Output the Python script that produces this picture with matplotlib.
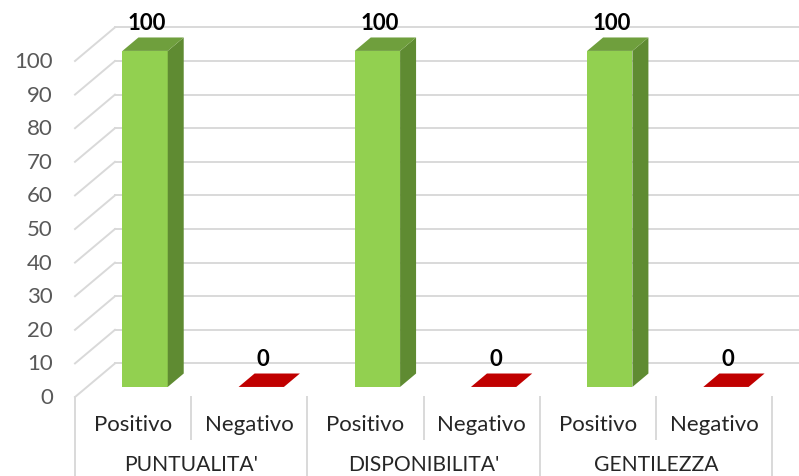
import matplotlib.pyplot as plt
from matplotlib.patches import Polygon
import numpy as np

groups = ["PUNTUALITA'", "DISPONIBILITA'", "GENTILEZZA"]
answers = ['Positivo', 'Negativo']
positivo = [100, 100, 100]
negativo = [0, 0, 0]
y_ticks = list(range(0, 101, 10))

# oblique "3D" look: depth offset expressed in data units
DX = 0.344   # slots
DZ = 10.0    # value units
T0, T1 = 0.3, 0.7   # front / back depth of the bars
BAR_W = 0.39

grid_c = '#D9D9D9'
fills = {
    'Positivo': ('#92D050', '#5F8B32', '#6F9F3D'),
    'Negativo': ('#C00000', '#8E0000', '#C00000'),
}
FS = 16

plt.rcParams['font.family'] = ['Lato', 'DejaVu Sans']

fig = plt.figure(figsize=(7.99, 4.77), dpi=100)
ax = fig.add_axes([0, 0, 1, 1])
ax.set_xlim(-0.6456, 6.232)
ax.set_ylim(-23.5, 118.45)
ax.axis('off')


def sh(x, y, t):
    return (x + t * DX, y + t * DZ)


# walls: back gridlines and left side diagonals
for v in y_ticks:
    bx, by = sh(0, v, 1)
    ax.plot([bx, 6.3], [by, by], color=grid_c, lw=1.4, zorder=1)
    ax.plot([0, bx], [v, by], color=grid_c, lw=1.4, zorder=1)
    ax.annotate(str(v), (0, v), xytext=(-16, 0), textcoords='offset points',
                ha='right', va='center', fontsize=FS, color='#595959')

# bars
n = len(answers)
for g in range(len(groups)):
    for j, (name, vals) in enumerate(zip(answers, [positivo, negativo])):
        val = vals[g]
        c = g * n + j + 0.5
        x0, x1 = c - BAR_W / 2, c + BAR_W / 2
        front, side, top = fills[name]
        if val > 0:
            ax.add_patch(Polygon([sh(x0, 0, T0), sh(x1, 0, T0), sh(x1, val, T0), sh(x0, val, T0)],
                                 closed=True, fc=front, ec='none', zorder=3))
            ax.add_patch(Polygon([sh(x1, 0, T0), sh(x1, 0, T1), sh(x1, val, T1), sh(x1, val, T0)],
                                 closed=True, fc=side, ec='none', zorder=3))
        ax.add_patch(Polygon([sh(x0, val, T0), sh(x1, val, T0), sh(x1, val, T1), sh(x0, val, T1)],
                             closed=True, fc=top, ec='none', zorder=3))
        lx, ly = sh(c, val, 0.35)
        ax.text(lx, ly + 8, str(val), ha='center', va='center', fontsize=FS,
                fontweight='bold', color='black', zorder=4)
        ax.text(c, -8, name, ha='center', va='center', fontsize=FS, color='#262626')

# category axis separators
ybot = ax.get_ylim()[0]
for k in range(len(groups) * n + 1):
    low = ybot if k % n == 0 else -12.5
    ax.plot([k, k], [0, low], color=grid_c, lw=1.4, zorder=1)

for g, name in enumerate(groups):
    ax.text(g * n + n / 2, -20, name, ha='center', va='center', fontsize=15.2, color='#262626')

fig.savefig('out.png', dpi=100)
